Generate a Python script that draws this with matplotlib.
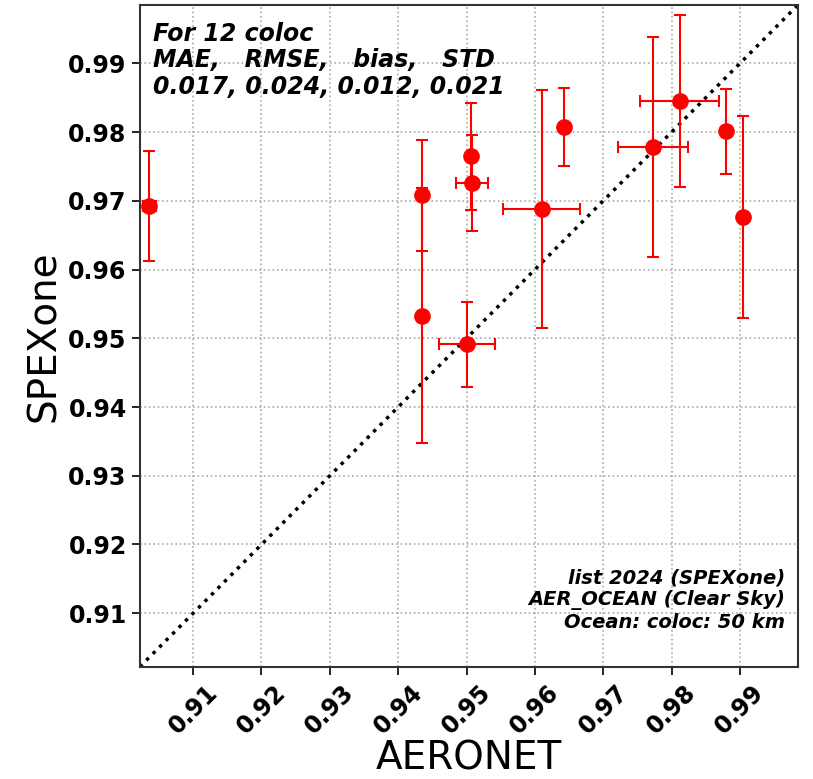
import numpy as np
import matplotlib
matplotlib.use('Agg')
import matplotlib.pyplot as plt

# AERONET vs SPEXone colocations
aeronet = [0.9036, 0.9435, 0.9435, 0.9507, 0.9508, 0.9501, 0.9610, 0.9643, 0.9773, 0.9812, 0.9880, 0.9904]
spexone = [0.9692, 0.9708, 0.9533, 0.9765, 0.9726, 0.9491, 0.9688, 0.9807, 0.9778, 0.9845, 0.9801, 0.9676]
xerr = [0.0009, 0.0, 0.0, 0.0, 0.0023, 0.0041, 0.0056, 0.0, 0.0051, 0.0058, 0.0, 0.0]
yerr = [0.0080, 0.0081, 0.0186, 0.0078, 0.0070, 0.0062, 0.0173, 0.0057, 0.0160, 0.0125, 0.0062, 0.0147]
ticks = [0.91, 0.92, 0.93, 0.94, 0.95, 0.96, 0.97, 0.98, 0.99]
lo, hi = 0.9022, 0.9985

fig = plt.figure(figsize=(8.13, 7.79), dpi=100)
ax = fig.add_axes([0.172, 0.144, 0.8095, 0.8496])

ax.plot([lo, hi], [lo, hi], color='k', linestyle=':', linewidth=2.5, zorder=2)
ax.errorbar(aeronet, spexone, xerr=xerr, yerr=yerr, fmt='o', color='red',
            ecolor='red', markersize=11, elinewidth=1.5, capsize=4, capthick=1.5, zorder=3)

ax.set_xlim(lo, hi)
ax.set_ylim(lo, hi)
ax.set_xticks(ticks)
ax.set_yticks(ticks)
ax.set_xticklabels(['%.2f' % t for t in ticks], rotation=45, fontsize=17, fontweight='bold')
ax.set_yticklabels(['%.2f' % t for t in ticks], fontsize=17, fontweight='bold')
ax.tick_params(length=6, width=1.2)
ax.grid(True, linestyle=':', color='#aaaaaa', linewidth=1.2)
for s in ax.spines.values():
    s.set_linewidth(1.5)
    s.set_color('#333333')

ax.set_xlabel('AERONET', fontsize=28, labelpad=1)
ax.set_ylabel('SPEXone', fontsize=28)

ax.text(0.02, 0.975, 'For 12 coloc\nMAE,   RMSE,   bias,   STD\n0.017, 0.024, 0.012, 0.021',
        transform=ax.transAxes, ha='left', va='top', fontsize=17,
        fontweight='bold', fontstyle='italic', linespacing=1.15)
ax.text(0.98, 0.052, 'list 2024 (SPEXone)\nAER_OCEAN (Clear Sky)\nOcean: coloc: 50 km',
        transform=ax.transAxes, ha='right', va='bottom', fontsize=14,
        fontweight='bold', fontstyle='italic', linespacing=1.2)

plt.savefig('out.png', dpi=100)
plt.close()
